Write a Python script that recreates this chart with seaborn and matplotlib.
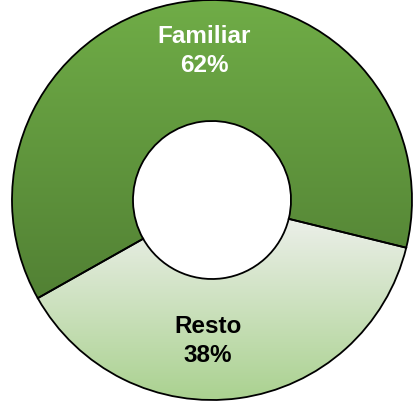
import numpy as np
import matplotlib
matplotlib.use("Agg")
import matplotlib.pyplot as plt
import seaborn as sns
from matplotlib.colors import LinearSegmentedColormap

categories = ["Familiar", "Resto"]
values = [62, 38]
pct_labels = ["62%", "38%"]

sns.set_theme(style="white")
plt.rcParams['font.family'] = ['Liberation Sans', 'DejaVu Sans']

fig = plt.figure(figsize=(4.13, 4.02), dpi=100)
ax = fig.add_axes([0, 0, 1, 1])

wedges, _ = ax.pie(values, startangle=-13.8, counterclock=True,
                   radius=1.0,
                   wedgeprops=dict(width=0.605, edgecolor="black", linewidth=1.3),
                   colors=["#63A040", "#D8E8CC"])

grads = [("#70AD47", "#528134"), ("#F2F2F2", "#A9D18E")]
for w, (c_top, c_bot) in zip(wedges, grads):
    verts = w.get_path().vertices
    ymin, ymax = verts[:, 1].min(), verts[:, 1].max()
    xmin, xmax = verts[:, 0].min(), verts[:, 0].max()
    cmap = LinearSegmentedColormap.from_list("g", [c_bot, c_top])
    grad = np.linspace(0, 1, 256).reshape(-1, 1)
    im = ax.imshow(grad, cmap=cmap, origin="lower", aspect="auto",
                   extent=[xmin, xmax, ymin, ymax], zorder=w.get_zorder() + 0.1,
                   interpolation="bilinear")
    im.set_clip_path(w)
    w.set_facecolor("none")
    w.set_zorder(w.get_zorder() + 0.2)

ax.set_xlim(-1.06, 1.005)
ax.set_ylim(-1.005, 1.005)
ax.set_aspect("auto")
ax.axis("off")

ax.text(-0.04, 0.75, f"{categories[0]}\n{pct_labels[0]}", ha="center", va="center",
        color="white", fontsize=17.5, fontweight="bold", linespacing=1.38, zorder=10)
ax.text(-0.02, -0.70, f"{categories[1]}\n{pct_labels[1]}", ha="center", va="center",
        color="black", fontsize=17.5, fontweight="bold", linespacing=1.38, zorder=10)

fig.savefig("out.png", dpi=100)
